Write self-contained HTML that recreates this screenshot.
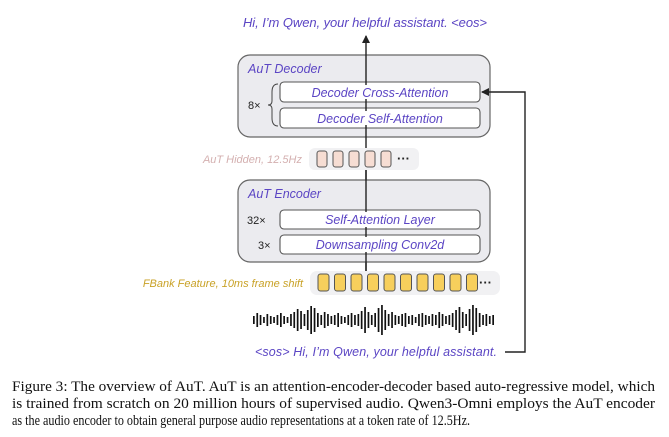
<!DOCTYPE html>
<html><head><meta charset="utf-8"><style>
html,body{margin:0;padding:0;background:#fff;}
svg{display:block;}
.p{font-family:"Liberation Sans",sans-serif;font-style:italic;fill:#5b45c4;}
.k{font-family:"Liberation Sans",sans-serif;fill:#222;}
.c{font-family:"Liberation Serif",serif;font-size:14.5px;fill:#111;}
</style></head><body>
<svg width="669" height="437" viewBox="0 0 669 437" xmlns="http://www.w3.org/2000/svg">
<defs><marker id="ah" markerWidth="8" markerHeight="8" refX="7" refY="4" orient="auto" markerUnits="userSpaceOnUse"><path d="M0,0 L8,4 L0,8 z" fill="#222"/></marker></defs>
<text class="p" x="365" y="27" font-size="13" text-anchor="middle" textLength="244">Hi, I’m Qwen, your helpful assistant. &lt;eos&gt;</text>
<!-- decoder -->
<rect x="238" y="55" width="252" height="82" rx="12" fill="#ebebef" stroke="#666" stroke-width="1.2"/>
<text class="p" x="248" y="73" font-size="12.5">AuT Decoder</text>
<rect x="280" y="82" width="200" height="20" rx="4" fill="#fff" stroke="#555" stroke-width="1.1"/>
<rect x="280" y="108" width="200" height="20" rx="4" fill="#fff" stroke="#555" stroke-width="1.1"/>
<line x1="366" y1="275" x2="366" y2="36" stroke="#222" stroke-width="1.4" marker-end="url(#ah)"/>
<rect x="300" y="85" width="132" height="14" fill="#fff"/>
<rect x="305" y="111" width="122" height="14" fill="#fff"/>
<text class="p" x="380" y="97" font-size="12.5" text-anchor="middle">Decoder Cross-Attention</text>
<text class="p" x="380" y="123" font-size="12.5" text-anchor="middle">Decoder Self-Attention</text>
<text class="k" x="248" y="109" font-size="11">8×</text>
<path d="M278,84 Q272,84 272,92 L272,101 Q272,105 268,105 Q272,105 272,109 L272,118 Q272,126 278,126" fill="none" stroke="#444" stroke-width="1"/>
<!-- feedback -->
<polyline points="505,352 525,352 525,92 482,92" fill="none" stroke="#222" stroke-width="1.4" marker-end="url(#ah)"/>
<!-- hidden -->
<text x="302" y="163" font-size="11" text-anchor="end" font-family="Liberation Sans,sans-serif" font-style="italic" fill="#d4b0b0">AuT Hidden, 12.5Hz</text>
<rect x="309" y="148" width="110" height="22" rx="6" fill="#f1f1f3"/>
<g fill="#f6ddd3" stroke="#555" stroke-width="1">
<rect x="317" y="151" width="10" height="16" rx="2.5"/><rect x="333" y="151" width="10" height="16" rx="2.5"/><rect x="349" y="151" width="10" height="16" rx="2.5"/><rect x="365" y="151" width="10" height="16" rx="2.5"/><rect x="381" y="151" width="10" height="16" rx="2.5"/></g>
<text class="k" x="397" y="163" font-size="13" font-weight="bold">···</text>
<!-- encoder -->
<rect x="238" y="180" width="252" height="82" rx="12" fill="#ebebef" stroke="#666" stroke-width="1.2"/>
<text class="p" x="248" y="198" font-size="12.5">AuT Encoder</text>
<rect x="280" y="210" width="200" height="19" rx="4" fill="#fff" stroke="#555" stroke-width="1.1"/>
<rect x="280" y="235" width="200" height="19" rx="4" fill="#fff" stroke="#555" stroke-width="1.1"/>
<line x1="366" y1="170" x2="366" y2="275" stroke="#222" stroke-width="1.4"/>
<rect x="322" y="212" width="112" height="15" fill="#fff"/>
<rect x="313" y="237" width="130" height="15" fill="#fff"/>
<text class="p" x="380" y="224" font-size="12.5" text-anchor="middle">Self-Attention Layer</text>
<text class="p" x="380" y="249" font-size="12.5" text-anchor="middle">Downsampling Conv2d</text>
<text class="k" x="247" y="224" font-size="11">32×</text>
<text class="k" x="258" y="249" font-size="11">3×</text>
<!-- fbank -->
<text x="303" y="287" font-size="11" text-anchor="end" font-family="Liberation Sans,sans-serif" font-style="italic" fill="#c9a227">FBank Feature, 10ms frame shift</text>
<rect x="310" y="271" width="190" height="24" rx="7" fill="#f1f1f3"/>
<g fill="#f7cf5c" stroke="#555" stroke-width="1">
<rect x="318" y="274" width="11" height="17" rx="2.5"/><rect x="334.5" y="274" width="11" height="17" rx="2.5"/><rect x="351" y="274" width="11" height="17" rx="2.5"/><rect x="367.5" y="274" width="11" height="17" rx="2.5"/><rect x="384" y="274" width="11" height="17" rx="2.5"/><rect x="400.5" y="274" width="11" height="17" rx="2.5"/><rect x="417" y="274" width="11" height="17" rx="2.5"/><rect x="433.5" y="274" width="11" height="17" rx="2.5"/><rect x="450" y="274" width="11" height="17" rx="2.5"/><rect x="466.5" y="274" width="11" height="17" rx="2.5"/></g>
<text class="k" x="479" y="287" font-size="13" font-weight="bold">···</text>
<!-- waveform -->
<g id="wave" fill="#111"></g>
<text class="p" x="376" y="356" font-size="12.5" text-anchor="middle" textLength="242">&lt;sos&gt;  Hi, I’m Qwen, your helpful assistant.</text>
<!-- caption -->
<text class="c" x="12" y="391" textLength="643" lengthAdjust="spacingAndGlyphs">Figure 3: The overview of AuT. AuT is an attention-encoder-decoder based auto-regressive model, which</text>
<text class="c" x="12" y="408" textLength="643" lengthAdjust="spacingAndGlyphs">is trained from scratch on 20 million hours of supervised audio. Qwen3-Omni employs the AuT encoder</text>
<text class="c" x="12" y="425" textLength="458" lengthAdjust="spacingAndGlyphs">as the audio encoder to obtain general purpose audio representations at a token rate of 12.5Hz.</text>
</svg>
<script>
var h=[8,14,10,6,12,8,6,10,14,8,6,12,16,22,18,12,20,28,24,14,10,16,12,8,10,14,8,6,10,14,10,12,18,26,16,10,14,24,30,20,12,16,10,8,12,14,8,10,6,12,14,10,8,12,10,16,12,8,10,14,20,26,16,12,22,30,24,14,10,12,8,10];
var g=document.getElementById('wave'),s='';
for(var i=0;i<h.length;i++){var x=253+i*3.37;s+='<rect x="'+x.toFixed(1)+'" y="'+(320-h[i]/2)+'" width="1.7" height="'+h[i]+'"/>';}
g.innerHTML=s;
</script>
</body></html>
